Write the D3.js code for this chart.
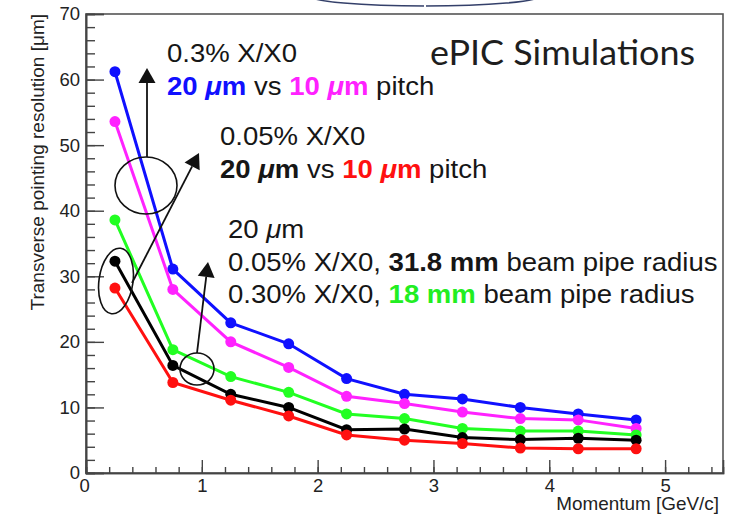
<!DOCTYPE html>
<html>
<head>
<meta charset="utf-8">
<script src="https://cdn.jsdelivr.net/npm/d3@7"></script>
<style>
  body { margin: 0; background: #fff; }
  svg { display: block; font-family: "Liberation Sans", Arial, sans-serif; }
</style>
</head>
<body>
<div id="chart"></div>
<script>
// momentum bins (GeV/c) and pointing resolution (um) per configuration
const momentum = [0.25, 0.75, 1.25, 1.75, 2.25, 2.75, 3.25, 3.75, 4.25, 4.75];
const blue    = [61.2, 31.1, 22.9, 19.7, 14.4, 12.0, 11.3, 10.0, 9.0, 8.1];
const magenta = [53.6, 28.0, 20.0, 16.1, 11.7, 10.6, 9.3, 8.3, 8.1, 6.8];
const green   = [38.6, 18.8, 14.7, 12.3, 9.0, 8.3, 6.8, 6.4, 6.4, 5.8];
const black   = [32.3, 16.4, 12.0, 10.0, 6.6, 6.7, 5.4, 5.1, 5.3, 5.0];
const red     = [28.2, 13.8, 11.1, 8.7, 5.8, 5.0, 4.5, 3.8, 3.7, 3.7];
const yTicks = [0, 10, 20, 30, 40, 50, 60, 70];
const xTicks = [0, 1, 2, 3, 4, 5];

const series = [
  { name: 'blue', color: '#1010ff', values: blue },
  { name: 'magenta', color: '#ff22ff', values: magenta },
  { name: 'green', color: '#22ff22', values: green },
  { name: 'black', color: '#000000', values: black },
  { name: 'red', color: '#ff1010', values: red }
];

const width = 730, height = 515;
const m = { left: 86, right: 723, top: 14, bottom: 473 };
const sx = 1.08; // text in the source is a bit wider than tall

const svg = d3.select('#chart').append('svg')
  .attr('width', width)
  .attr('height', height);

const x = d3.scaleLinear().domain([0, 5.5]).range([m.left, m.right]);
const y = d3.scaleLinear().domain([0, 70]).range([m.bottom, m.top]);

// stray arc from the slide above the plot
svg.append('ellipse')
  .attr('cx', 425).attr('cy', -4).attr('rx', 115).attr('ry', 10)
  .attr('fill', 'none').attr('stroke', '#34406a').attr('stroke-width', 1.6);
svg.append('rect').attr('x', 424).attr('y', 0).attr('width', 2).attr('height', 10).attr('fill', '#fff');

// frame
svg.append('rect')
  .attr('x', m.left).attr('y', m.top)
  .attr('width', m.right - m.left).attr('height', m.bottom - m.top)
  .attr('fill', 'none').attr('stroke', '#555').attr('stroke-width', 1.6);

// axes, ticks pointing inward like ROOT
const yAxis = svg.append('g').attr('transform', `translate(${m.left},0)`)
  .call(d3.axisLeft(y).tickValues(yTicks).tickSize(-18).tickPadding(6).tickFormat(d3.format('d')));
svg.append('g').attr('transform', `translate(${m.left},0)`)
  .call(d3.axisLeft(y).tickValues(d3.range(0, 70.1, 2)).tickSize(-9).tickFormat(''));
const xAxis = svg.append('g').attr('transform', `translate(0,${m.bottom})`)
  .call(d3.axisBottom(x).tickValues(xTicks).tickSize(-13).tickPadding(6).tickFormat(d3.format('d')));
svg.append('g').attr('transform', `translate(0,${m.bottom})`)
  .call(d3.axisBottom(x).tickValues(d3.range(0, 5.45, 0.2)).tickSize(-6).tickFormat(''));

svg.selectAll('.domain').attr('stroke', '#444').attr('stroke-width', 1.6);
svg.selectAll('.tick line').attr('stroke', '#444').attr('stroke-width', 1.4);
svg.selectAll('.tick text').attr('fill', '#222').style('font-size', '18.5px');
xAxis.selectAll('.tick text').filter(d => d === 0).attr('dx', '-0.1em');

// axis titles
svg.append('text')
  .attr('transform', `translate(44,14) rotate(-90)`)
  .attr('text-anchor', 'end')
  .attr('fill', '#222')
  .style('font-size', '19px')
  .text('Transverse pointing resolution [\u03bcm]');
svg.append('text')
  .attr('transform', `translate(719,510) scale(${sx},1)`)
  .attr('text-anchor', 'end')
  .attr('fill', '#222')
  .style('font-size', '17.5px')
  .text('Momentum [GeV/c]');

// curves and markers
const line = d3.line().x((d, i) => x(momentum[i])).y(d => y(d));
const groups = svg.selectAll('g.series')
  .data(series)
  .enter()
  .append('g')
  .attr('class', 'series');
groups.append('path')
  .attr('d', d => line(d.values))
  .attr('fill', 'none')
  .attr('stroke', d => d.color)
  .attr('stroke-width', 3);
groups.selectAll('circle')
  .data(d => d.values.map((v, i) => ({ v, i, color: d.color })))
  .enter()
  .append('circle')
  .attr('cx', d => x(momentum[d.i]))
  .attr('cy', d => y(d.v))
  .attr('r', 5.5)
  .attr('fill', d => d.color);

// annotations: ellipses and arrows
function ellipse(cx, cy, rx, ry, rot) {
  svg.append('ellipse')
    .attr('transform', `translate(${cx},${cy}) rotate(${rot || 0})`)
    .attr('rx', rx).attr('ry', ry)
    .attr('fill', 'none').attr('stroke', '#111').attr('stroke-width', 1.6);
}
function arrow(x1, y1, x2, y2) {
  const a = Math.atan2(y2 - y1, x2 - x1);
  const len = 15, half = 8.5;
  const bx = x2 - len * Math.cos(a), by = y2 - len * Math.sin(a);
  svg.append('line')
    .attr('x1', x1).attr('y1', y1).attr('x2', bx).attr('y2', by)
    .attr('stroke', '#111').attr('stroke-width', 1.8);
  const px = -Math.sin(a) * half, py = Math.cos(a) * half;
  svg.append('path')
    .attr('d', `M${x2},${y2}L${bx + px},${by + py}L${bx - px},${by - py}Z`)
    .attr('fill', '#111');
}
ellipse(146, 185.5, 31, 28.5);
ellipse(116, 281, 17, 33, 8);
ellipse(197, 369, 17, 16);
arrow(147, 157, 147, 68);
arrow(132, 283, 199, 153);
arrow(197, 353, 208, 262);

// text blocks
function label(tx, ty, parts, size) {
  const t = svg.append('text')
    .attr('transform', `translate(${tx},${ty}) scale(${sx},1)`)
    .style('font-size', size + 'px');
  parts.forEach(p => {
    t.append('tspan')
      .text(p.t)
      .attr('fill', p.c || '#161616')
      .style('font-weight', p.b ? 'bold' : null)
      .style('font-style', p.i ? 'italic' : null);
  });
}
const mu = '\u03bc';
const fs = 25.5;
label(167, 62, [{ t: '0.3% X/X0' }], fs);
label(167, 95, [
  { t: '20 ', b: 1, c: '#1010ff' }, { t: mu, b: 1, i: 1, c: '#1010ff' }, { t: 'm', b: 1, c: '#1010ff' },
  { t: ' vs ' },
  { t: '10 ', b: 1, c: '#ff22ff' }, { t: mu, b: 1, i: 1, c: '#ff22ff' }, { t: 'm', b: 1, c: '#ff22ff' },
  { t: ' pitch' }
], fs);
label(220, 145, [{ t: '0.05% X/X0' }], fs);
label(220, 178, [
  { t: '20 ', b: 1 }, { t: mu, b: 1, i: 1 }, { t: 'm', b: 1 },
  { t: ' vs ' },
  { t: '10 ', b: 1, c: '#ff1010' }, { t: mu, b: 1, i: 1, c: '#ff1010' }, { t: 'm', b: 1, c: '#ff1010' },
  { t: ' pitch' }
], fs);
label(228, 238, [{ t: '20 ' }, { t: mu, i: 1 }, { t: 'm' }], fs);
label(228, 271, [{ t: '0.05% X/X0, ' }, { t: '31.8 mm', b: 1 }, { t: ' beam pipe radius' }], fs);
label(228, 303, [{ t: '0.30% X/X0, ' }, { t: '18 mm', b: 1, c: '#22ee22' }, { t: ' beam pipe radius' }], fs);

svg.append('text')
  .attr('x', 430).attr('y', 65)
  .attr('textLength', 265).attr('lengthAdjust', 'spacingAndGlyphs')
  .attr('fill', '#1e1e1e')
  .style('font-family', 'Lato, "Open Sans", sans-serif')
  .style('font-size', '35px')
  .text('ePIC Simulations');
</script>
</body>
</html>
